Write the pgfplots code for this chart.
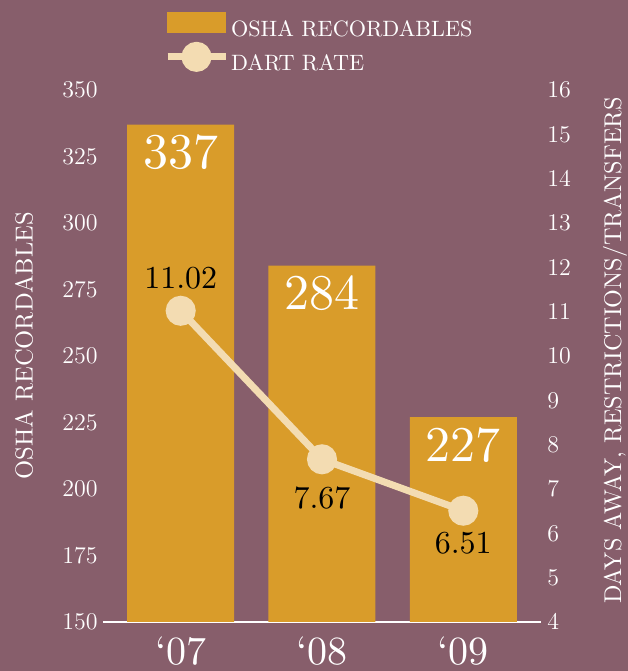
\documentclass[border=0pt]{standalone}
\usepackage{fontspec}
\setmainfont{lmroman10-regular.otf}
\usepackage{pgfplots}
\pgfplotsset{compat=1.18}
\definecolor{bgc}{RGB}{135,94,107}
\definecolor{barc}{RGB}{217,156,42}
\definecolor{cream}{RGB}{243,220,178}
\begin{document}
\begin{tikzpicture}
\path[use as bounding box, fill=bgc] (0,0) rectangle (314pt,335.5pt);
\begin{axis}[
  at={(51.5pt,24.5pt)}, anchor=south west,
  scale only axis, width=219pt, height=266pt,
  xmin=-0.55, xmax=2.55, ymin=150, ymax=350,
  ytick={150,175,...,350},
  xtick={0,1,2}, xticklabels={`07,`08,`09},
  axis x line*=bottom, axis y line*=left,
  x axis line style={white, line width=1pt, -},
  y axis line style={draw=none},
  major tick length=0pt,
  xticklabel style={font=\fontsize{20}{24}\selectfont, text=white, inner sep=0pt, anchor=north, yshift=-7pt},
  yticklabel style={font=\fontsize{12.5}{15}\selectfont, text=white, inner sep=0pt, anchor=east, xshift=-2.5pt},
  ylabel={OSHA RECORDABLES},
  ylabel style={at={(axis description cs:-0.1804,0.519)}, anchor=center, text=white, font=\fontsize{12.3}{14}\selectfont},
  clip=false,
]
\addplot[ybar, bar width=53.5pt, fill=barc, draw=none] coordinates {(0,337) (1,284) (2,227)};
\node[anchor=north, inner sep=0pt, yshift=-5pt, text=white, font=\fontsize{25}{30}\selectfont] at (axis cs:0,337) {337};
\node[anchor=north, inner sep=0pt, yshift=-5pt, text=white, font=\fontsize{25}{30}\selectfont] at (axis cs:1,284) {284};
\node[anchor=north, inner sep=0pt, yshift=-5pt, text=white, font=\fontsize{25}{30}\selectfont] at (axis cs:2,227) {227};
\end{axis}
\begin{axis}[
  at={(51.5pt,24.5pt)}, anchor=south west,
  scale only axis, width=219pt, height=266pt,
  xmin=-0.55, xmax=2.55, ymin=4, ymax=16,
  ytick={4,5,...,16},
  axis x line=none, axis y line*=right,
  y axis line style={draw=none},
  major tick length=0pt,
  yticklabel style={font=\fontsize{12.5}{15}\selectfont, text=white, inner sep=0pt, anchor=west, xshift=3pt},
  ylabel={DAYS AWAY, RESTRICTIONS/TRANSFERS},
  ylabel style={at={(axis description cs:1.1689,0.5103)}, anchor=center, text=white, font=\fontsize{12.1}{14}\selectfont},
  clip=false,
  legend cell align=left,
  legend style={at={(axis description cs:0.1393,1.1466)}, anchor=north west, draw=none, fill=none, text=white,
    font=\fontsize{11.1}{13}\selectfont, inner sep=0pt, outer sep=0pt, row sep=1.25pt,
    nodes={inner sep=0pt}, /tikz/every odd column/.append style={column sep=1pt}},
]
\addlegendimage{legend image code/.code={\fill[barc] (0pt,-1.25pt) rectangle (29pt,8.75pt);}}
\addlegendentry{OSHA RECORDABLES}
\addplot[cream, line width=3.5pt, mark=*, mark size=5.75pt, mark options={fill=cream, draw=none},
  legend image code/.code={\draw[cream, line width=3.5pt] (0pt,3.75pt) -- (29pt,3.75pt); \fill[cream] (14.5pt,3.75pt) circle (5.75pt);}]
  coordinates {(0,11.02) (1,7.67) (2,6.51)};
\addlegendentry{DART RATE}
\node[anchor=base, inner sep=0pt, yshift=11pt, font=\fontsize{16}{19}\selectfont] at (axis cs:0,11.02) {11.02};
\node[anchor=north, inner sep=0pt, yshift=-13.5pt, font=\fontsize{16}{19}\selectfont] at (axis cs:1,7.67) {7.67};
\node[anchor=north, inner sep=0pt, yshift=-10.5pt, font=\fontsize{16}{19}\selectfont] at (axis cs:2,6.51) {6.51};
\end{axis}
\end{tikzpicture}
\end{document}
